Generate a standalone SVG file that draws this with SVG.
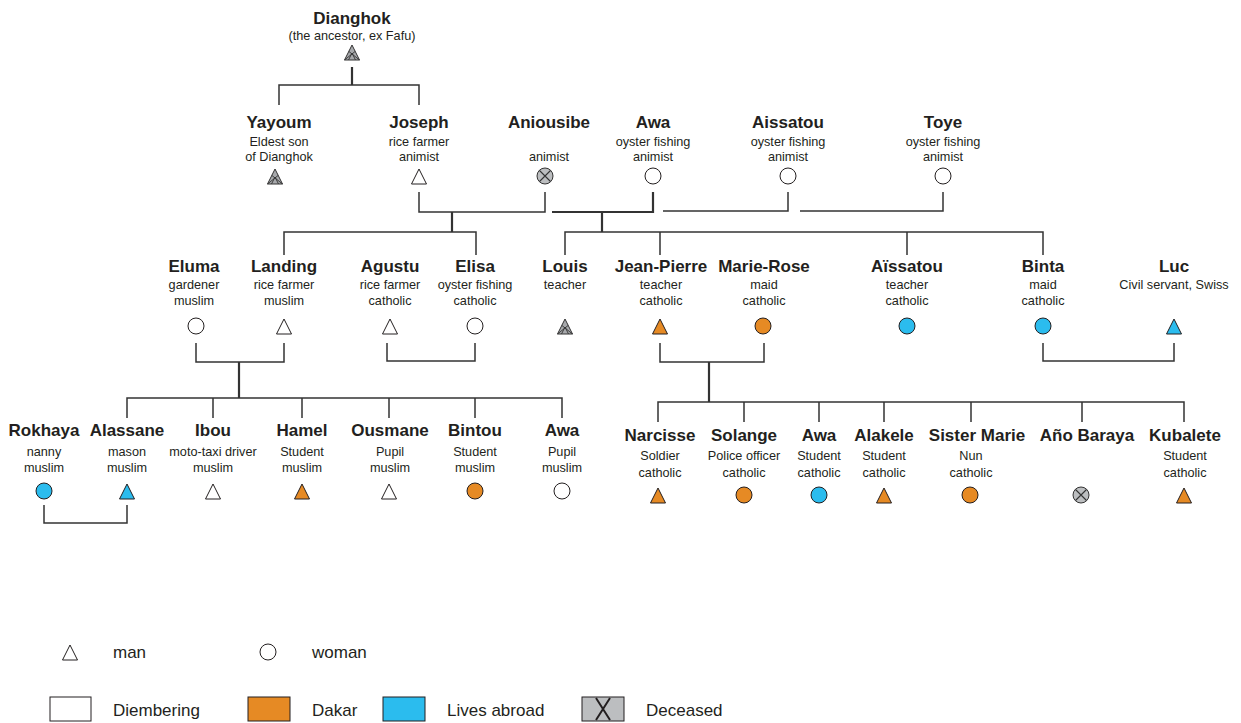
<svg xmlns="http://www.w3.org/2000/svg" xmlns:xlink="http://www.w3.org/1999/xlink" width="1241" height="723" viewBox="0 0 1241 723">
<style>
text{font-family:"Liberation Sans",Arial,sans-serif;fill:#231f20;text-anchor:middle}
.nm{font-size:17px;font-weight:bold}
.sb{font-size:12.7px}
.lg{font-size:17px;text-anchor:start}
.sym{stroke:#231f20;stroke-width:1}
.wh{fill:#fff}
.or{fill:#e68a24}
.bl{fill:#2bbcee}
.gr{fill:#bcbec0}
.con path{fill:none;stroke:#333;stroke-width:1.5}
.con path.tk{stroke-width:2.2}
</style>
<defs>
<path id="tri" d="M0,-8 L7.5,7 L-7.5,7 Z"/>
<g id="dtri"><path d="M0,-8 L7.5,7 L-7.5,7 Z" fill="#a7a9ac" stroke="#333" stroke-width="1"/><path d="M-7.5,7 L3.2,-1.6 M7.5,7 L-3.2,-1.6 M-3.5,7 L0,0 L3.5,7" fill="none" stroke="#333" stroke-width="0.9"/></g>
<g id="dcir"><circle r="8" fill="#bcbec0" stroke="#333" stroke-width="1"/><path d="M-5.5,-5.5 L5.5,5.5 M5.5,-5.5 L-5.5,5.5" stroke="#333" stroke-width="1.1"/></g>
</defs>

<g class="con" id="connectors">
<path class="tk" d="M352,67 V85"/>
<path d="M279,105 V85 H419 V105"/>
<path d="M419,192 V212 H545 V192"/>
<path class="tk" d="M452,212 V232"/>
<path d="M284,255 V232 H476 V255"/>
<path class="tk" d="M552,212 H653 V192"/>
<path class="tk" d="M602,212 V232"/>
<path d="M565,255 V232 H1043 V255 M660,232 V255 M907,232 V255"/>
<path d="M663,211 H788 V192"/>
<path d="M800,211 H943 V192"/>
<path d="M196,343 V362 H284 V343"/>
<path class="tk" d="M239,362 V398"/>
<path d="M127,418 V398 H562 V418 M213,398 V418 M302,398 V418 M389,398 V418 M475,398 V418"/>
<path d="M387,343 V361 H475 V343"/>
<path d="M660,343 V362 H764 V343"/>
<path class="tk" d="M709,362 V402"/>
<path d="M658,422 V402 H1184 V422 M744,402 V422 M819,402 V422 M884,402 V422 M971,402 V422 M1082,402 V422"/>
<path d="M1043,343 V361 H1174 V343"/>
<path d="M44,505 V523 H127 V505"/>
</g>

<g id="dianghok"><text class="nm" x="352" y="24">Dianghok</text><text class="sb" x="352" y="40">(the ancestor, ex Fafu)</text><use href="#dtri" x="352" y="53"/></g>

<g id="yayoum"><text class="nm" x="279" y="128">Yayoum</text><text class="sb" x="279" y="146">Eldest son</text><text class="sb" x="279" y="161">of Dianghok</text><use href="#dtri" x="275" y="177"/></g>
<g id="joseph"><text class="nm" x="419" y="128">Joseph</text><text class="sb" x="419" y="146">rice farmer</text><text class="sb" x="419" y="161">animist</text><use href="#tri" class="sym wh" x="419" y="177"/></g>
<g id="aniousibe"><text class="nm" x="549" y="128">Aniousibe</text><text class="sb" x="549" y="161">animist</text><use href="#dcir" x="545" y="176"/></g>
<g id="awa1"><text class="nm" x="653" y="128">Awa</text><text class="sb" x="653" y="146">oyster fishing</text><text class="sb" x="653" y="161">animist</text><circle class="sym wh" cx="653" cy="176" r="8"/></g>
<g id="aissatou1"><text class="nm" x="788" y="128">Aissatou</text><text class="sb" x="788" y="146">oyster fishing</text><text class="sb" x="788" y="161">animist</text><circle class="sym wh" cx="788" cy="176" r="8"/></g>
<g id="toye"><text class="nm" x="943" y="128">Toye</text><text class="sb" x="943" y="146">oyster fishing</text><text class="sb" x="943" y="161">animist</text><circle class="sym wh" cx="943" cy="176" r="8"/></g>

<g id="eluma"><text class="nm" x="194" y="272">Eluma</text><text class="sb" x="194" y="289">gardener</text><text class="sb" x="194" y="305">muslim</text><circle class="sym wh" cx="196" cy="326" r="8"/></g>
<g id="landing"><text class="nm" x="284" y="272">Landing</text><text class="sb" x="284" y="289">rice farmer</text><text class="sb" x="284" y="305">muslim</text><use href="#tri" class="sym wh" x="284" y="327"/></g>
<g id="agustu"><text class="nm" x="390" y="272">Agustu</text><text class="sb" x="390" y="289">rice farmer</text><text class="sb" x="390" y="305">catholic</text><use href="#tri" class="sym wh" x="390" y="327"/></g>
<g id="elisa"><text class="nm" x="475" y="272">Elisa</text><text class="sb" x="475" y="289">oyster fishing</text><text class="sb" x="475" y="305">catholic</text><circle class="sym wh" cx="475" cy="326" r="8"/></g>
<g id="louis"><text class="nm" x="565" y="272">Louis</text><text class="sb" x="565" y="289">teacher</text><use href="#dtri" x="565" y="327"/></g>
<g id="jeanpierre"><text class="nm" x="661" y="272">Jean-Pierre</text><text class="sb" x="661" y="289">teacher</text><text class="sb" x="661" y="305">catholic</text><use href="#tri" class="sym or" x="660" y="327"/></g>
<g id="marierose"><text class="nm" x="764" y="272">Marie-Rose</text><text class="sb" x="764" y="289">maid</text><text class="sb" x="764" y="305">catholic</text><circle class="sym or" cx="763" cy="326" r="8"/></g>
<g id="aissatou2"><text class="nm" x="907" y="272">Aïssatou</text><text class="sb" x="907" y="289">teacher</text><text class="sb" x="907" y="305">catholic</text><circle class="sym bl" cx="907" cy="326" r="8"/></g>
<g id="binta"><text class="nm" x="1043" y="272">Binta</text><text class="sb" x="1043" y="289">maid</text><text class="sb" x="1043" y="305">catholic</text><circle class="sym bl" cx="1043" cy="326" r="8"/></g>
<g id="luc"><text class="nm" x="1174" y="272">Luc</text><text class="sb" x="1174" y="289">Civil servant, Swiss</text><use href="#tri" class="sym bl" x="1174" y="327"/></g>

<g id="rokhaya"><text class="nm" x="44" y="436">Rokhaya</text><text class="sb" x="44" y="456">nanny</text><text class="sb" x="44" y="472">muslim</text><circle class="sym bl" cx="44" cy="491" r="8"/></g>
<g id="alassane"><text class="nm" x="127" y="436">Alassane</text><text class="sb" x="127" y="456">mason</text><text class="sb" x="127" y="472">muslim</text><use href="#tri" class="sym bl" x="127" y="492"/></g>
<g id="ibou"><text class="nm" x="213" y="436">Ibou</text><text class="sb" x="213" y="456">moto-taxi driver</text><text class="sb" x="213" y="472">muslim</text><use href="#tri" class="sym wh" x="213" y="492"/></g>
<g id="hamel"><text class="nm" x="302" y="436">Hamel</text><text class="sb" x="302" y="456">Student</text><text class="sb" x="302" y="472">muslim</text><use href="#tri" class="sym or" x="302" y="492"/></g>
<g id="ousmane"><text class="nm" x="390" y="436">Ousmane</text><text class="sb" x="390" y="456">Pupil</text><text class="sb" x="390" y="472">muslim</text><use href="#tri" class="sym wh" x="389" y="492"/></g>
<g id="bintou"><text class="nm" x="475" y="436">Bintou</text><text class="sb" x="475" y="456">Student</text><text class="sb" x="475" y="472">muslim</text><circle class="sym or" cx="475" cy="491" r="8"/></g>
<g id="awa2"><text class="nm" x="562" y="436">Awa</text><text class="sb" x="562" y="456">Pupil</text><text class="sb" x="562" y="472">muslim</text><circle class="sym wh" cx="562" cy="491" r="8"/></g>

<g id="narcisse"><text class="nm" x="660" y="441">Narcisse</text><text class="sb" x="660" y="460">Soldier</text><text class="sb" x="660" y="477">catholic</text><use href="#tri" class="sym or" x="658" y="496"/></g>
<g id="solange"><text class="nm" x="744" y="441">Solange</text><text class="sb" x="744" y="460">Police officer</text><text class="sb" x="744" y="477">catholic</text><circle class="sym or" cx="744" cy="495" r="8"/></g>
<g id="awa3"><text class="nm" x="819" y="441">Awa</text><text class="sb" x="819" y="460">Student</text><text class="sb" x="819" y="477">catholic</text><circle class="sym bl" cx="819" cy="495" r="8"/></g>
<g id="alakele"><text class="nm" x="884" y="441">Alakele</text><text class="sb" x="884" y="460">Student</text><text class="sb" x="884" y="477">catholic</text><use href="#tri" class="sym or" x="884" y="496"/></g>
<g id="sistermarie"><text class="nm" x="977" y="441">Sister Marie</text><text class="sb" x="971" y="460">Nun</text><text class="sb" x="971" y="477">catholic</text><circle class="sym or" cx="970" cy="495" r="8"/></g>
<g id="anobaraya"><text class="nm" x="1087" y="441">Año Baraya</text><use href="#dcir" x="1081" y="495"/></g>
<g id="kubalete"><text class="nm" x="1185" y="441">Kubalete</text><text class="sb" x="1185" y="460">Student</text><text class="sb" x="1185" y="477">catholic</text><use href="#tri" class="sym or" x="1184" y="496"/></g>

<g id="legend">
<use href="#tri" class="sym wh" x="70" y="653"/><text class="lg" x="113" y="658">man</text>
<circle class="sym wh" cx="268" cy="652" r="8"/><text class="lg" x="312" y="658">woman</text>
<rect class="sym wh" x="50" y="697" width="41" height="24"/><text class="lg" x="113" y="716">Diembering</text>
<rect class="sym or" x="248" y="697" width="42" height="24"/><text class="lg" x="312" y="716">Dakar</text>
<rect class="sym bl" x="383" y="697" width="42" height="24"/><text class="lg" x="447" y="716">Lives abroad</text>
<rect class="sym gr" x="582" y="697" width="42" height="24"/><path d="M596,698 L610,720 M610,698 L596,720" stroke="#231f20" stroke-width="2"/><text class="lg" x="646" y="716">Deceased</text>
</g>
</svg>
